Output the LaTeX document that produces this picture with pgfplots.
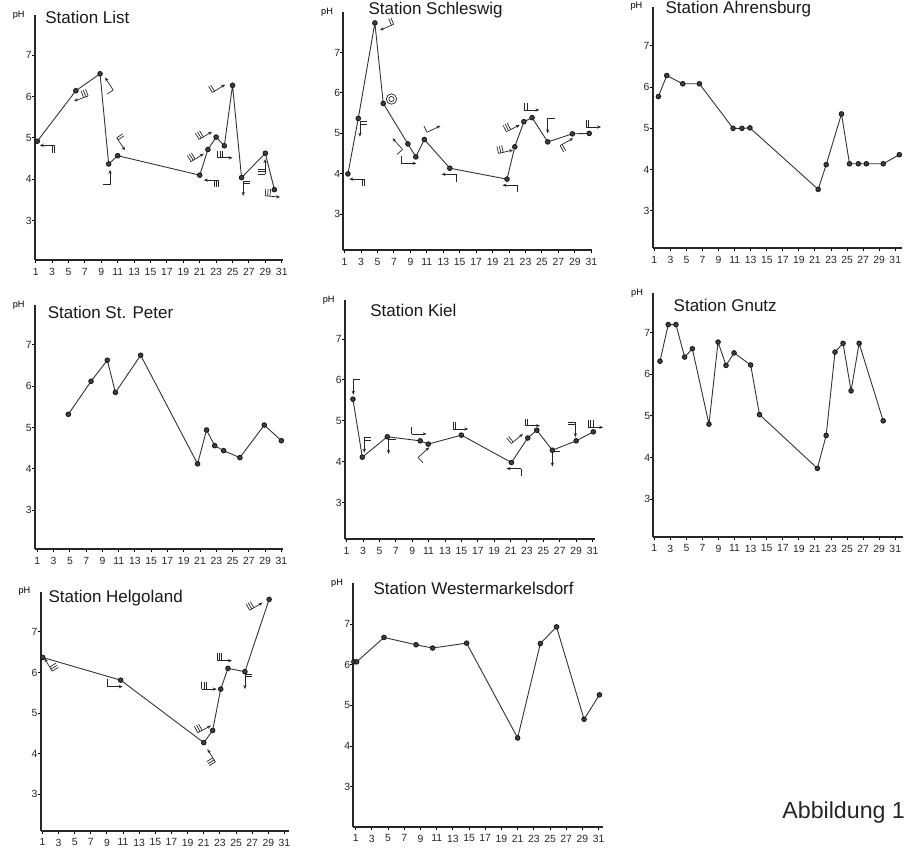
\documentclass[border=0pt]{standalone}
\usepackage{fontspec}
\setmainfont{Liberation Sans}
\usepackage{pgfplots}
\usepackage{pgfplotstable}
\pgfplotsset{compat=1.18}
\usetikzlibrary{arrows.meta}

% pH readings per station (day, pH)
\pgfplotstableread{
d ph
1.2 4.92
5.9 6.14
8.85 6.55
9.9 4.37
11 4.57
21 4.10
22 4.72
23 5.02
24 4.81
25 6.27
26.1 4.04
29 4.63
30.1 3.75
}\dataList
\pgfplotstableread{
d ph
1.4 4.00
2.66 5.37
4.68 7.73
5.7 5.74
8.7 4.74
9.66 4.42
10.7 4.85
13.8 4.14
20.75 3.87
21.7 4.67
22.8 5.29
23.8 5.39
25.7 4.79
28.7 4.99
30.75 5.00
}\dataSchleswig
\pgfplotstableread{
d ph
1.5 5.77
2.54 6.28
4.53 6.08
6.61 6.08
10.8 5.00
11.9 5.00
12.9 5.01
21.4 3.52
22.4 4.12
24.3 5.35
25.3 4.14
26.4 4.14
27.4 4.14
29.5 4.14
31.5 4.36
}\dataAhrensburg
\pgfplotstableread{
d ph
4.81 5.32
7.6 6.12
9.6 6.63
10.6 5.85
13.7 6.75
20.7 4.12
21.8 4.94
22.8 4.56
23.9 4.44
25.9 4.27
28.9 5.06
31.0 4.68
}\dataStPeter
\pgfplotstableread{
d ph
1.77 5.53
2.91 4.11
5.96 4.61
9.98 4.51
10.96 4.43
15.0 4.65
21.1 3.98
23.1 4.58
24.2 4.77
26.1 4.28
29.0 4.51
31.1 4.73
}\dataKiel
\pgfplotstableread{
d ph
1.71 6.31
2.74 7.19
3.7 7.19
4.78 6.41
5.74 6.61
7.81 4.80
8.94 6.77
9.93 6.21
10.93 6.51
13.0 6.22
14.1 5.03
21.3 3.74
22.4 4.53
23.5 6.53
24.5 6.74
25.5 5.60
26.5 6.74
29.5 4.88
}\dataGnutz
\pgfplotstableread{
d ph
1.04 6.37
10.7 5.81
21.0 4.27
22.1 4.57
23.1 5.59
24.0 6.10
26.1 6.02
29.1 7.80
}\dataHelgoland
\pgfplotstableread{
d ph
0.78 6.07
1.12 6.07
4.5 6.67
8.45 6.49
10.5 6.41
14.7 6.53
21.0 4.20
23.8 6.52
25.8 6.93
29.2 4.66
31.1 5.26
}\dataWester

\pgfplotsset{
  station/.style={
    scale only axis,
    anchor=south west,
    axis lines=left,
    axis line style={-, line width=0.9pt, black!85},
    xtick={1,3,...,31},
    ytick={3,4,5,6,7},
    tick align=outside,
    major tick length=1.5pt,
    tick style={black, line width=0.5pt},
    /pgf/number format/assume math mode=true,
    tick label style={font=\fontsize{5.2}{6}\selectfont, black!85},
    xticklabel style={yshift=1pt},
    yticklabel style={xshift=3.4pt},
    clip=false,
  },
}
\tikzset{
  pline/.style={black!80, line width=0.45pt, mark=*, mark size=1.15pt,
    mark options={fill=black!75, draw=black!90}},
  stitle/.style={anchor=base west, font=\fontsize{8.5}{10}\selectfont, black!90, inner sep=0pt},
  bstyle/.style={black!85, line width=0.35pt},
}
\newcommand{\phlabel}{\node[anchor=east, font=\fontsize{4.6}{5}\selectfont, inner sep=0pt] at (rel axis cs:0,1) [xshift=-5pt] {pH};}
% wind symbol: arrow ending at (#2,#3), pointing at angle #4, #5 feathers at its tail,
% feathers on the side #1 (90 = left of the arrow, -90 = right)
\newcommand{\barb}[5][90]{%
  \draw[bstyle, -{Stealth[length=2pt,width=1.6pt]}] ([shift={({#4+180}:7.5pt)}]axis cs:#2,#3) -- (axis cs:#2,#3);
  \draw[bstyle] ([shift={({#4+180}:7.5pt)}]axis cs:#2,#3) -- ++({#4+(#1)}:3.6pt);
  \ifnum#5>1 \draw[bstyle] ([shift={({#4+180}:6.3pt)}]axis cs:#2,#3) -- ++({#4+(#1)}:3.6pt);\fi
  \ifnum#5>2 \draw[bstyle] ([shift={({#4+180}:5.1pt)}]axis cs:#2,#3) -- ++({#4+(#1)}:3.6pt);\fi
}

\begin{document}
\begin{tikzpicture}[x=0.5pt, y=-0.5pt]
\useasboundingbox (0,0) rectangle (923,856);
% lower left corners of the eight panels (reference pixels)
\coordinate (pList) at (35,260);
\coordinate (pSchl) at (343.3,250);
\coordinate (pAhr)  at (652.7,248.3);
\coordinate (pStP)  at (35,549.3);
\coordinate (pKiel) at (345,539.3);
\coordinate (pGnu)  at (653.3,536.7);
\coordinate (pHelg) at (40.7,830.7);
\coordinate (pWest) at (353.3,826.7);
\coordinate (pAbb)  at (782,818);

% row 1
\begin{axis}[station, at={(pList)}, width=124.2pt, height=122.5pt,
  xmin=0.92, xmax=31.2, ymin=2.05, ymax=7.97]
\addplot[pline] table {\dataList};
\node[stitle] at (rel axis cs:0.04,0.965) {Station List};
\phlabel
\barb{1.5}{4.82}{180}{2}
\barb[-90]{5.67}{5.89}{200}{3}
\barb{9.46}{6.46}{123}{1}
\barb{10.07}{4.23}{90}{1}
\barb{11.9}{4.7}{-56}{2}
\barb{21.5}{3.98}{180}{3}
\barb{21.5}{4.62}{32}{3}
\barb{22.5}{5.15}{31}{3}
\barb{25.0}{4.52}{0}{3}
\barb{24.1}{6.29}{32}{2}
\barb{26.3}{3.6}{-90}{2}
\barb{28.97}{4.49}{90}{3}
\barb{30.8}{3.57}{-5}{3}
\end{axis}

\begin{axis}[station, at={(pSchl)}, width=124.2pt, height=119pt,
  xmin=0.84, xmax=31.05, ymin=2.12, ymax=8.0]
\addplot[pline] table {\dataSchleswig};
\node[stitle] at (rel axis cs:0.10,0.99) {Station Schleswig};
\phlabel
\barb{1.57}{3.87}{180}{2}
\barb{2.86}{4.92}{-90}{2}
\barb[-90]{5.29}{7.55}{203}{2}
\barb{6.83}{4.88}{132}{1}
\barb{9.74}{4.26}{0}{1}
\barb{12.66}{5.19}{26}{1}
\barb{12.78}{3.99}{180}{1}
\barb{20.2}{3.72}{180}{1}
\barb{21.5}{4.59}{13}{3}
\barb{22.3}{5.21}{27}{3}
\barb{24.7}{5.58}{0}{2}
\barb{25.7}{5.0}{-90}{1}
\barb[-90]{28.8}{4.88}{29}{2}
\barb{32.2}{5.16}{0}{2}
\draw[bstyle] (axis cs:6.7,5.85) circle[radius=2.6pt] circle[radius=1.3pt];
\end{axis}

\begin{axis}[station, at={(pAhr)}, width=124.5pt, height=120.8pt,
  xmin=0.79, xmax=31.8, ymin=2.09, ymax=7.95]
\addplot[pline] table {\dataAhrensburg};
\node[stitle] at (rel axis cs:0.05,0.97) {Station Ahrensburg};
\phlabel
\end{axis}

% row 2
\begin{axis}[station, at={(pStP)}, width=124.2pt, height=122.2pt,
  xmin=0.71, xmax=31.25, ymin=2.05, ymax=7.97]
\addplot[pline] table {\dataStPeter};
\node[stitle] at (rel axis cs:0.05,0.945) {Station St. Peter};
\phlabel
\end{axis}

\begin{axis}[station, at={(pKiel)}, width=125pt, height=119.7pt,
  xmin=0.8, xmax=31.3, ymin=2.1, ymax=7.96]
\addplot[pline] table {\dataKiel};
\node[stitle] at (rel axis cs:0.10,0.93) {Station Kiel};
\phlabel
\barb{1.81}{5.64}{-90}{1}
\barb{3.15}{4.22}{-90}{2}
\barb{6.12}{4.19}{-90}{1}
\barb{10.76}{4.68}{0}{1}
\barb[-90]{11.08}{4.35}{42}{1}
\barb{15.84}{4.8}{0}{2}
\barb{20.5}{3.83}{180}{1}
\barb{22.5}{4.68}{40}{2}
\barb{24.6}{4.88}{0}{2}
\barb{26.1}{3.88}{-90}{1}
\barb[-90]{28.9}{4.6}{-90}{2}
\barb{32.3}{4.84}{0}{3}
\end{axis}

\begin{axis}[station, at={(pGnu)}, width=125pt, height=121.7pt,
  xmin=0.88, xmax=32.0, ymin=2.1, ymax=7.94]
\addplot[pline] table {\dataGnutz};
\node[stitle] at (rel axis cs:0.08,0.925) {Station Gnutz};
\phlabel
\end{axis}

% row 3
\begin{axis}[station, at={(pHelg)}, width=124.3pt, height=119.5pt,
  xmin=0.79, xmax=31.6, ymin=2.1, ymax=7.99]
\addplot[pline] table {\dataHelgoland};
\node[stitle] at (rel axis cs:0.03,0.955) {Station Helgoland};
\phlabel
\barb[-90]{1.25}{6.35}{121}{3}
\barb{10.96}{5.65}{0}{1}
\barb{21.45}{4.11}{122}{3}
\barb{21.9}{4.69}{28}{3}
\barb{22.6}{5.59}{0}{3}
\barb{24.5}{6.29}{0}{3}
\barb{26.1}{5.59}{-90}{2}
\barb{28.3}{7.72}{30}{3}
\end{axis}

\begin{axis}[station, at={(pWest)}, width=124.7pt, height=121.7pt,
  xmin=0.71, xmax=31.5, ymin=2.02, ymax=8.0]
\addplot[pline] table {\dataWester};
\node[stitle] at (rel axis cs:0.08,0.955) {Station Westermarkelsdorf};
\phlabel
\end{axis}

\node[anchor=base west, font=\fontsize{11.6}{13}\selectfont, black!85, inner sep=0pt] at (pAbb) {Abbildung 1};
\end{tikzpicture}
\end{document}
